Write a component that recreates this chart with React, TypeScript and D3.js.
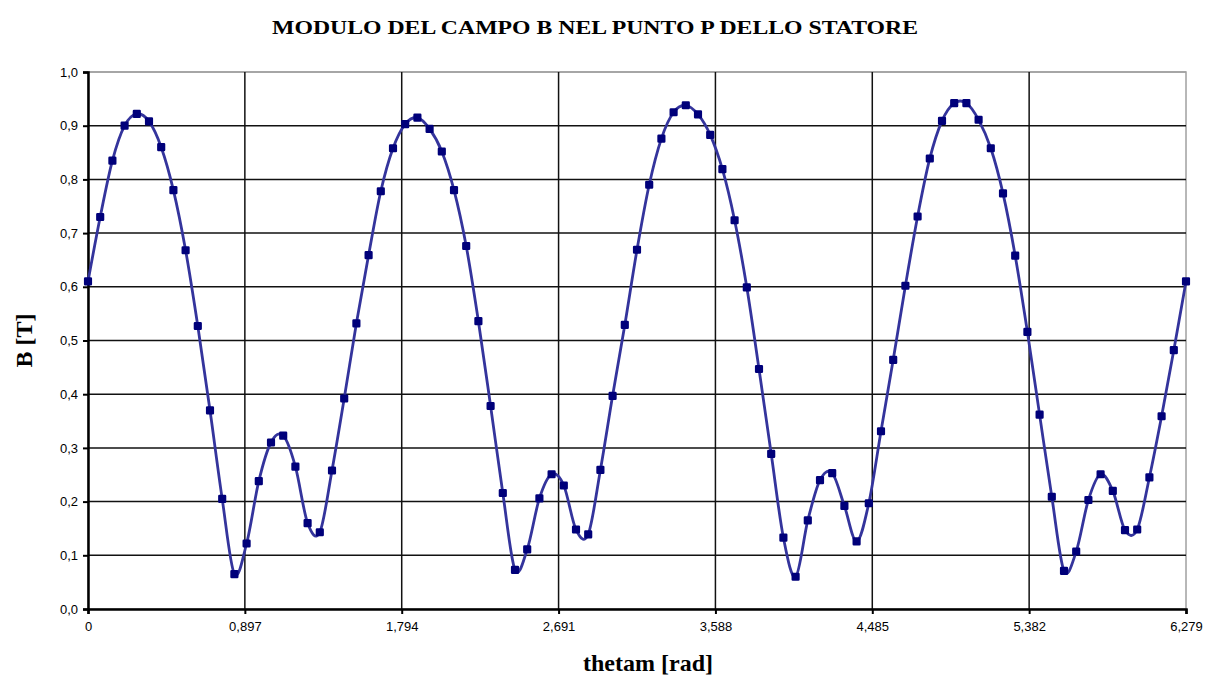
import React, { useRef, useEffect } from "react";
import * as d3 from "d3";

// B field magnitude (T), 91 samples from 0 to 6.279 rad
const bValues = [
  0.61, 0.73, 0.835, 0.9, 0.922, 0.908, 0.86, 0.78, 0.668, 0.527,
  0.37, 0.205, 0.065, 0.122, 0.238, 0.31, 0.323, 0.265, 0.16, 0.143,
  0.258, 0.392, 0.532, 0.659, 0.778, 0.858, 0.903, 0.915, 0.894, 0.852,
  0.78, 0.676, 0.536, 0.378, 0.216, 0.073, 0.111, 0.206, 0.251, 0.23,
  0.148, 0.139, 0.259, 0.397, 0.529, 0.669, 0.79, 0.876, 0.925, 0.938,
  0.921, 0.883, 0.819, 0.724, 0.599, 0.447, 0.289, 0.133, 0.06, 0.165,
  0.24, 0.253, 0.192, 0.126, 0.197, 0.331, 0.464, 0.602, 0.731, 0.839,
  0.909, 0.942, 0.942, 0.911, 0.858, 0.774, 0.658, 0.516, 0.362, 0.209,
  0.071, 0.107, 0.203, 0.251, 0.22, 0.147, 0.148, 0.245, 0.359, 0.482,
  0.61,
];
const thetaMax = 6.279;
const xTicks = [0, 0.897, 1.794, 2.691, 3.588, 4.485, 5.382, 6.279];
const yTicks = [0, 0.1, 0.2, 0.3, 0.4, 0.5, 0.6, 0.7, 0.8, 0.9, 1.0];

const App: React.FC = () => {
  const svgRef = useRef<SVGSVGElement>(null);

  useEffect(() => {
    if (!svgRef.current) return;
    const svg = d3.select(svgRef.current);
    svg.selectAll("*").remove();

    const width = 1207;
    const height = 682;
    const left = 88;
    const right = 1186;
    const top = 72;
    const bottom = 609;

    const data = bValues.map((v, i) => ({
      t: (i * thetaMax) / (bValues.length - 1),
      b: v,
    }));

    const x = d3.scaleLinear().domain([0, thetaMax]).range([left, right]);
    const y = d3.scaleLinear().domain([0, 1]).range([bottom, top]);

    svg.attr("width", width).attr("height", height);

    svg
      .append("rect")
      .attr("width", width)
      .attr("height", height)
      .attr("fill", "#ffffff");

    // title
    svg
      .append("text")
      .attr("x", 595)
      .attr("y", 34)
      .attr("text-anchor", "middle")
      .attr("font-family", "'Liberation Serif', 'Times New Roman', serif")
      .attr("font-weight", "bold")
      .attr("font-size", 18)
      .attr("textLength", 646)
      .attr("lengthAdjust", "spacingAndGlyphs")
      .text("MODULO DEL CAMPO B NEL PUNTO P DELLO STATORE");

    // plot frame (top/right grey)
    svg
      .append("rect")
      .attr("x", left)
      .attr("y", top)
      .attr("width", right - left)
      .attr("height", bottom - top)
      .attr("fill", "none")
      .attr("stroke", "#a0a0a0")
      .attr("stroke-width", 1.5);

    // grid
    const grid = svg.append("g").attr("stroke", "#111").attr("stroke-width", 1.5);
    grid
      .selectAll("line.h")
      .data(yTicks.slice(1))
      .join("line")
      .attr("x1", left)
      .attr("x2", right)
      .attr("y1", (d) => y(d))
      .attr("y2", (d) => y(d))
      .attr("stroke", (d) => (d === 1 ? "#a0a0a0" : "#111"));
    grid
      .selectAll("line.v")
      .data(xTicks.slice(1, -1))
      .join("line")
      .attr("x1", (d) => x(d))
      .attr("x2", (d) => x(d))
      .attr("y1", top)
      .attr("y2", bottom);

    // axes
    const xAxis = d3
      .axisBottom(x)
      .tickValues(xTicks)
      .tickSize(5)
      .tickFormat((d) => {
        const v = d as number;
        return v === 0 ? "0" : d3.format(".3f")(v).replace(".", ",");
      });
    const gx = svg
      .append("g")
      .attr("transform", `translate(0,${bottom})`)
      .call(xAxis);
    gx.select(".domain").attr("stroke", "#000").attr("stroke-width", 2.5);
    gx.selectAll(".tick line").attr("stroke", "#000").attr("stroke-width", 2);
    gx.selectAll(".tick text")
      .attr("font-family", "'Liberation Sans', Arial, sans-serif")
      .attr("font-size", 13)
      .attr("fill", "#000")
      .attr("dy", "1.1em");

    const yAxis = d3
      .axisLeft(y)
      .tickValues(yTicks)
      .tickSize(5)
      .tickFormat((d) => d3.format(".1f")(d as number).replace(".", ","));
    const gy = svg
      .append("g")
      .attr("transform", `translate(${left},0)`)
      .call(yAxis);
    gy.select(".domain").attr("stroke", "#000").attr("stroke-width", 2.5);
    gy.selectAll(".tick line").attr("stroke", "#000").attr("stroke-width", 2);
    gy.selectAll(".tick text")
      .attr("font-family", "'Liberation Sans', Arial, sans-serif")
      .attr("font-size", 13)
      .attr("fill", "#000")
      .attr("x", -10);

    // axis titles
    svg
      .append("text")
      .attr("x", 648)
      .attr("y", 671)
      .attr("text-anchor", "middle")
      .attr("font-family", "'Liberation Serif', 'Times New Roman', serif")
      .attr("font-weight", "bold")
      .attr("font-size", 24)
      .text("thetam [rad]");

    svg
      .append("text")
      .attr("transform", `translate(32,${(top + bottom) / 2}) rotate(-90)`)
      .attr("text-anchor", "middle")
      .attr("font-family", "'Liberation Serif', 'Times New Roman', serif")
      .attr("font-weight", "bold")
      .attr("font-size", 24)
      .text("B [T]");

    // smoothed curve
    const line = d3
      .line<{ t: number; b: number }>()
      .x((d) => x(d.t))
      .y((d) => y(d.b))
      .curve(d3.curveCatmullRom.alpha(0));

    svg
      .append("path")
      .datum(data)
      .attr("fill", "none")
      .attr("stroke", "#34349c")
      .attr("stroke-width", 2.8)
      .attr("d", line);

    // markers: small rounded blobs
    const sym = d3.symbol().type(d3.symbolSquare).size(32);
    svg
      .append("g")
      .selectAll("path")
      .data(data)
      .join("path")
      .attr("transform", (d) => `translate(${x(d.t)},${y(d.b)})`)
      .attr("d", sym)
      .attr("fill", "#00007a")
      .attr("stroke", "#00007a")
      .attr("stroke-width", 2.5)
      .attr("stroke-linejoin", "round");
  }, []);

  return (
    <svg
      ref={svgRef}
      style={{ position: "absolute", left: 0, top: 0, display: "block" }}
    />
  );
};

export default App;
